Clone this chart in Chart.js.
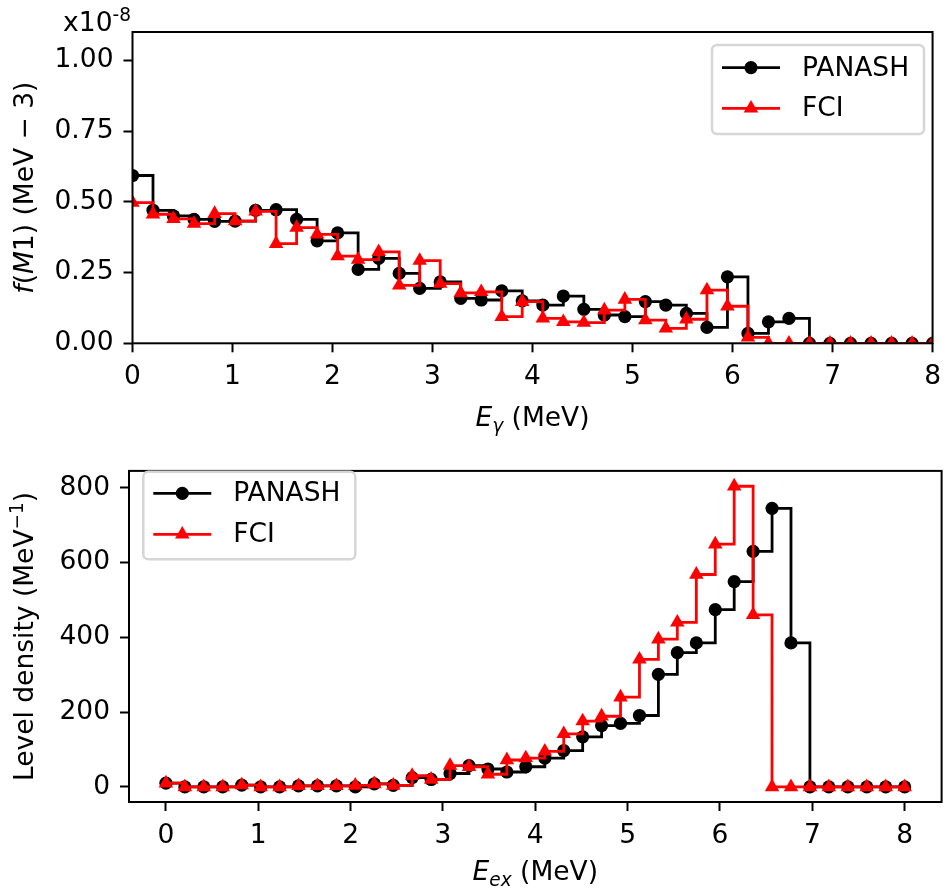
<!DOCTYPE html>
<html>
<head>
<meta charset="utf-8">
<script src="https://cdn.jsdelivr.net/npm/chart.js@4.4.0/dist/chart.umd.min.js"></script>
<style>
  body { margin: 0; background: #fff; }
  #wrap { position: relative; width: 950px; height: 890px; }
  canvas { position: absolute; left: 0; }
  #gsf { top: 0; }
  #nld { top: 445px; }
</style>
</head>
<body>
<div id="wrap">
  <canvas id="gsf" width="950" height="445"></canvas>
  <canvas id="nld" width="950" height="445"></canvas>
</div>
<script>
// energy grid (MeV), same bins for both panels
const energies = [0.000, 0.205, 0.410, 0.615, 0.821, 1.026, 1.231, 1.436, 1.641, 1.846,
                  2.051, 2.256, 2.462, 2.667, 2.872, 3.077, 3.282, 3.487, 3.692, 3.897,
                  4.103, 4.308, 4.513, 4.718, 4.923, 5.128, 5.333, 5.538, 5.744, 5.949,
                  6.154, 6.359, 6.564, 6.769, 6.974, 7.179, 7.385, 7.590, 7.795, 8.000];

// M1 strength, in units of 1e-8 MeV^-3
const fM1Panash = [0.593, 0.470, 0.450, 0.438, 0.431, 0.432, 0.470, 0.472, 0.438, 0.362,
                   0.390, 0.261, 0.300, 0.247, 0.194, 0.217, 0.159, 0.153, 0.185, 0.150,
                   0.135, 0.167, 0.120, 0.100, 0.094, 0.147, 0.135, 0.106, 0.056, 0.235,
                   0.035, 0.076, 0.088, 0, 0, 0, 0, 0, 0, 0];
const fM1Fci = [0.497, 0.456, 0.440, 0.423, 0.458, 0.432, 0.466, 0.352, 0.409, 0.385,
                0.308, 0.296, 0.323, 0.205, 0.292, 0.211, 0.178, 0.182, 0.094, 0.147,
                0.088, 0.076, 0.073, 0.117, 0.155, 0.082, 0.053, 0.085, 0.188, 0.131,
                0.021, 0, 0, 0, 0, 0, 0, 0, 0, 0];

// level density, MeV^-1
const rhoPanash = [10, 0, 0, 0, 5, 0, 0, 3, 3, 3,
                   0, 8, 4, 25, 20, 36, 57, 48, 40, 54,
                   77, 97, 134, 164, 170, 191, 301, 359, 385, 474,
                   549, 630, 745, 385, 0, 0, 0, 0, 0, 0];
const rhoFci = [10, 0, 0, 0, 5, 0, 0, 3, 3, 3,
                4, 8, 4, 30, 20, 57, 54, 34, 72, 77,
                95, 142, 176, 189, 240, 341, 395, 440, 568, 649,
                804, 460, 0, 0, 0, 0, 0, 0, 0, 0];

const seriesNames = ['PANASH', 'FCI'];
const energyTicks = [0, 1, 2, 3, 4, 5, 6, 7, 8];
const gsfTicks = [0, 0.25, 0.5, 0.75, 1.0];
const nldTicks = [0, 200, 400, 600, 800];

const FONT = '"DejaVu Sans"';
const FS = 26.5;

const toPoints = vals => energies.map((e, i) => ({ x: e, y: vals[i] }));

function makeSets(black, red) {
  return [
    {
      label: seriesNames[0], data: toPoints(black), stepped: true,
      borderColor: '#000', backgroundColor: '#000', pointBackgroundColor: '#000',
      borderWidth: 2.8, pointStyle: 'circle', pointRadius: 6.6, pointBorderWidth: 0,
      order: 1
    },
    {
      label: seriesNames[1], data: toPoints(red), stepped: true,
      borderColor: '#ff0000', backgroundColor: '#ff0000', pointBackgroundColor: '#ff0000',
      borderWidth: 2.8, pointStyle: 'triangle', pointRadius: 8.4, pointBorderWidth: 0,
      order: 0
    }
  ];
}

function axis(min, max, tickVals, fmt, size, horizontal, pad) {
  return {
    type: 'linear', min, max,
    afterBuildTicks: s => { s.ticks = tickVals.map(v => ({ value: v })); },
    afterFit: s => { if (horizontal) s.height = size; else s.width = size; },
    ticks: { color: '#000', font: { family: FONT, size: FS }, padding: pad,
             maxRotation: 0, autoSkip: false, callback: fmt },
    grid: { drawOnChartArea: false, drawTicks: true, tickLength: 9, tickWidth: 2, tickColor: '#000' },
    border: { display: false }
  };
}

// black box around the plotting area
const frame = {
  id: 'frame',
  afterDatasetsDraw(chart) {
    const { ctx, chartArea: { left, top, right, bottom } } = chart;
    ctx.save();
    ctx.strokeStyle = '#000';
    ctx.lineWidth = 2;
    ctx.strokeRect(left, top, right - left, bottom - top);
    ctx.restore();
  }
};

// legend box with line + marker samples
const legendBox = {
  id: 'legendBox',
  afterDraw(chart, args, o) {
    const ctx = chart.ctx;
    ctx.save();
    ctx.beginPath();
    ctx.roundRect(o.x, o.y, o.w, o.h, 5);
    ctx.fillStyle = 'rgba(255,255,255,0.8)';
    ctx.fill();
    ctx.strokeStyle = '#d6d6d6';
    ctx.lineWidth = 2.5;
    ctx.stroke();
    chart.data.datasets.forEach((ds, i) => {
      const y = o.y + o.row0 + i * o.rowGap;
      ctx.beginPath();
      ctx.moveTo(o.x + 10, y);
      ctx.lineTo(o.x + 68, y);
      ctx.strokeStyle = ds.borderColor;
      ctx.lineWidth = ds.borderWidth;
      ctx.stroke();
      ctx.fillStyle = ds.pointBackgroundColor;
      Chart.helpers.drawPoint(ctx, { pointStyle: ds.pointStyle, radius: ds.pointRadius, borderWidth: 0, rotation: 0 }, o.x + 39, y);
      ctx.fillStyle = '#000';
      ctx.font = FS + 'px ' + FONT;
      ctx.textBaseline = 'middle';
      ctx.textAlign = 'left';
      ctx.fillText(ds.label, o.x + 90, y + 1);
    });
    ctx.restore();
  }
};

// mixed-style text: parts are [text, fontStyle, scale, dy]
function drawRich(ctx, parts, cx, cy, rotate) {
  ctx.save();
  ctx.translate(cx, cy);
  if (rotate) ctx.rotate(-Math.PI / 2);
  ctx.fillStyle = '#000';
  ctx.textBaseline = 'alphabetic';
  ctx.textAlign = 'left';
  const fontOf = p => `${p[1]} ${FS * p[2]}px ${FONT}`;
  let total = 0;
  parts.forEach(p => { ctx.font = fontOf(p); total += ctx.measureText(p[0]).width; });
  let x = -total / 2;
  parts.forEach(p => {
    ctx.font = fontOf(p);
    ctx.fillText(p[0], x, p[3]);
    x += ctx.measureText(p[0]).width;
  });
  ctx.restore();
}

const axisTitles = {
  id: 'axisTitles',
  afterDraw(chart, args, o) {
    const { ctx, chartArea: { left, right, top, bottom } } = chart;
    drawRich(ctx, o.x, (left + right) / 2, o.xBase, false);
    drawRich(ctx, o.y, o.yBase, (top + bottom) / 2, true);
    if (o.offset) {
      ctx.save();
      ctx.fillStyle = '#000';
      ctx.textAlign = 'right';
      ctx.font = `${FS * 0.7}px ${FONT}`;
      ctx.fillText('-8', 131, 21);
      const w = ctx.measureText('-8').width;
      ctx.font = `${FS}px ${FONT}`;
      ctx.fillText('x10', 131 - w, 30.5);
      ctx.restore();
    }
  }
};

const baseOptions = {
  responsive: false,
  animation: false,
  events: [],
};

new Chart(document.getElementById('gsf'), {
  type: 'line',
  data: { datasets: makeSets(fM1Panash, fM1Fci) },
  options: {
    ...baseOptions,
    layout: { padding: { top: 32, right: 11, left: 0, bottom: 0 } },
    scales: {
      x: axis(0, 8, energyTicks, v => String(v), 101.7, true, 9),
      y: axis(0, 1.1, gsfTicks, v => v.toFixed(2), 132.5, false, 10)
    },
    plugins: {
      legend: { display: false },
      tooltip: { enabled: false },
      legendBox: { x: 712, y: 45, w: 212, h: 89, row0: 22.7, rowGap: 40.6 },
      axisTitles: {
        x: [['E', 'italic', 1, 0], ['γ', 'italic', 0.7, 6], [' (MeV)', 'normal', 1, 0]],
        xBase: 426,
        y: [['f', 'italic', 1, 0], ['(', 'normal', 1, 0], ['M', 'italic', 1, 0], ['1', 'normal', 1, 0],
            [') (MeV − 3)', 'normal', 1, 0]],
        yBase: 33,
        offset: true
      }
    }
  },
  plugins: [frame, legendBox, axisTitles]
});

new Chart(document.getElementById('nld'), {
  type: 'line',
  data: { datasets: makeSets(rhoPanash, rhoFci) },
  options: {
    ...baseOptions,
    layout: { padding: { top: 11.7, right: 8, left: 0, bottom: 0 } },
    scales: {
      x: axis(-0.4, 8.4, energyTicks, v => String(v), 88, true, 9),
      y: axis(-40.25, 845, nldTicks, v => String(v), 129, false, 10)
    },
    plugins: {
      legend: { display: false },
      tooltip: { enabled: false },
      legendBox: { x: 143.3, y: 26.7, w: 212, h: 87.6, row0: 21.6, rowGap: 41 },
      axisTitles: {
        x: [['E', 'italic', 1, 0], ['ex', 'italic', 0.7, 6], [' (MeV)', 'normal', 1, 0]],
        xBase: 435,
        y: [['Level density (MeV', 'normal', 1, 0], ['−1', 'normal', 0.7, -10], [')', 'normal', 1, 0]],
        yBase: 33,
        offset: false
      }
    }
  },
  plugins: [frame, legendBox, axisTitles]
});
</script>
</body>
</html>
